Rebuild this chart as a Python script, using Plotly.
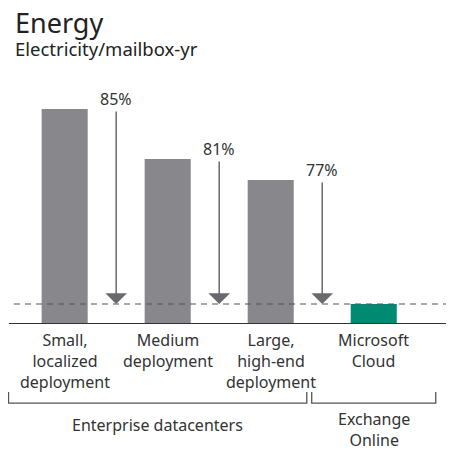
import plotly.graph_objects as go

categories = ["Small,<br>localized<br>deployment", "Medium<br>deployment",
              "Large,<br>high-end<br>deployment", "Microsoft<br>Cloud"]
values = [215, 165, 144, 20]
colors = ["#88878c", "#88878c", "#88878c", "#008a72"]
reductions = ["85%", "81%", "77%"]
groups = ["Enterprise datacenters", "Exchange<br>Online"]
title = "Energy"
subtitle = "Electricity/mailbox-yr"

FONT = "Noto Sans"
TXT = "#333333"
xs = list(range(len(categories)))
PW = 443.0   # plot width in px
PH = 244.0   # plot height in px

fig = go.Figure()
fig.add_trace(go.Bar(x=xs, y=values, marker=dict(color=colors, line=dict(width=0)),
                     width=0.447, hoverinfo="skip"))

cloud = values[-1]
shapes = [
    dict(type="line", xref="paper", yref="y", x0=6 / PW, x1=1, y0=cloud, y1=cloud,
         line=dict(color="#555555", width=1.2, dash="6px,5px"), layer="above"),
    dict(type="line", xref="paper", yref="y", x0=0.002, x1=1, y0=0, y1=0,
         line=dict(color="#333333", width=2), layer="above"),
]
# brackets
for lo, hi in zip([-0.545, 2.398], [2.35, 3.602]):
    shapes.append(dict(type="path", xref="x", yref="paper",
                       path=f"M {lo},-0.279 L {lo},-0.324 L {hi},-0.324 L {hi},-0.279",
                       line=dict(color="#555555", width=1.3)))

annotations = []
for i, pct in enumerate(reductions):
    xm = i + 0.5
    annotations.append(dict(x=xm, y=cloud, ax=xm, ay=values[i] - 1, xref="x", yref="y",
                            axref="x", ayref="y", text="", showarrow=True, arrowhead=1,
                            arrowsize=2.4, arrowwidth=1.5, arrowcolor="#6a6a6e", standoff=0))
    annotations.append(dict(x=xm, y=values[i], xref="x", yref="y", text=pct, showarrow=False,
                            yanchor="bottom", yshift=-3, font=dict(family=FONT, size=16, color=TXT)))
for i, c in enumerate(categories):
    annotations.append(dict(x=i, y=-0.014, xref="x", yref="paper", text=c, showarrow=False,
                            yanchor="top", font=dict(family=FONT, size=16, color=TXT)))

# group labels
g_ent, g_exo = groups
annotations.append(dict(x=(-0.545 + 2.35) / 2, y=(316 - 417) / PH, xref="x", yref="paper",
                        text=g_ent, showarrow=False, yanchor="middle",
                        font=dict(family=FONT, size=16, color=TXT)))
annotations.append(dict(x=3.0, y=(316 - 444) / PH, xref="x", yref="paper",
                        text=g_exo, showarrow=False, yanchor="bottom", borderpad=0,
                        font=dict(family=FONT, size=16, color=TXT)))

# title and subtitle
annotations.append(dict(x=6 / PW, y=(316 - 14) / PH, xref="paper", yref="paper", text=title,
                        showarrow=False, xanchor="left", yanchor="middle", borderpad=0,
                        font=dict(family=FONT, size=27, color="#222222")))
annotations.append(dict(x=6 / PW, y=(316 - 40.5) / PH, xref="paper", yref="paper", text=subtitle,
                        showarrow=False, xanchor="left", yanchor="middle", borderpad=0,
                        font=dict(family=FONT, size=18.5, color="#222222")))

fig.update_layout(
    width=446, height=444,
    margin=dict(l=0, r=3, t=72, b=128, autoexpand=False),
    plot_bgcolor="white", paper_bgcolor="white",
    showlegend=False,
    xaxis=dict(range=[-0.55, 3.75], showticklabels=False, showgrid=False, zeroline=False,
               showline=False, ticks=""),
    yaxis=dict(range=[0, 244], visible=False),
    shapes=shapes, annotations=annotations,
)
fig.write_html("out.html")
